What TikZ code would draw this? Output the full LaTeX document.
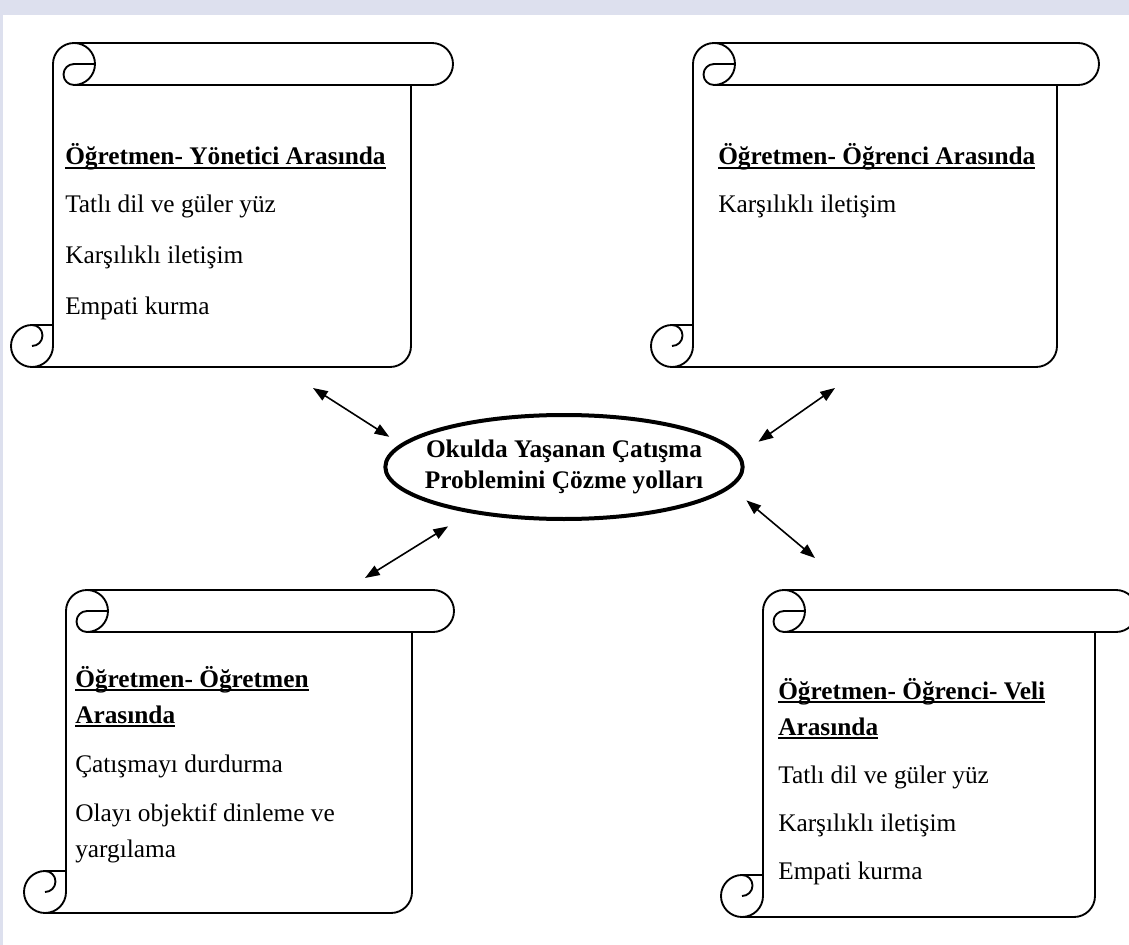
\documentclass[tikz,border=0pt]{standalone}
\usepackage{fontspec}
\setmainfont{Liberation Serif}
\usetikzlibrary{shapes.geometric, arrows.meta}

\definecolor{framebg}{RGB}{221,224,238}

% underline that cuts through descenders, like a word processor
\newcommand{\headline}[1]{\setbox0\hbox{#1}\rlap{\rule[-3pt]{\wd0}{1.2pt}}\box0}

% scroll outline: left x, top y, body width, height (all in px, y downward)
\newcommand{\scrollshape}[4]{%
  \begin{scope}[shift={(#1,-#2)}]
    \def\sr{21}
    \draw[scrollline] (\sr,0) -- (#3+\sr,0)
      arc[start angle=90, end angle=-90, radius=\sr] -- (\sr,-2*\sr);
    \draw[scrollline] (0,-#4+\sr) -- (0,-\sr)
      arc[start angle=180, end angle=90, radius=\sr]
      arc[start angle=90, end angle=-90, radius=\sr];
    \draw[scrollline] (2*\sr,-\sr) -- (\sr,-\sr)
      arc[start angle=90, end angle=270, radius=\sr/2];
    \draw[scrollline] (#3,-2*\sr) -- (#3,-#4+\sr)
      arc[start angle=0, end angle=-90, radius=\sr] -- (-\sr,-#4);
    \draw[scrollline] (0,-#4+2*\sr) -- (-\sr,-#4+2*\sr)
      arc[start angle=90, end angle=360, radius=\sr];
    \draw[scrollline] (-\sr,-#4+\sr) arc[start angle=-90, end angle=90, radius=\sr/2];
  \end{scope}}

\begin{document}
\begin{tikzpicture}[x=0.75pt, y=0.75pt,
    every node/.style={font=\fontsize{19}{23}\selectfont},
    scrollline/.style={line width=1.4pt, line join=round},
    head/.style={anchor=base west, inner sep=0pt, font=\fontsize{19}{23}\selectfont\bfseries},
    item/.style={anchor=base west, inner sep=0pt},
    oval/.style={ellipse, draw, line width=3pt, minimum width=268pt, minimum height=78pt,
      align=center, inner xsep=-14pt, inner ysep=4pt, font=\fontsize{19}{23}\selectfont\bfseries},
    link/.style={{Triangle[length=11pt,width=8pt]}-{Triangle[length=11pt,width=8pt]}, line width=1.2pt}
]
\useasboundingbox (0,0) rectangle (1129,-945);
\clip (0,0) rectangle (1129,-945);

% frame
\fill[framebg] (0,0) rectangle (1129,-15);
\fill[framebg] (0,0) rectangle (3,-945);

% scrolls
\scrollshape{53}{43}{358}{324}
\scrollshape{693}{43}{364}{324}
\scrollshape{66}{590}{346}{323}
\scrollshape{763}{590}{332}{327}

% centre
\node[oval] (goal) at (564,-467) {Okulda Yaşanan Çatışma\\Problemini Çözme yolları};

% top left
\node[head] (tlHead) at (65,-165) {\headline{Öğretmen- Yönetici Arasında}};
\node[item] (tlA) at (65,-213) {Tatlı dil ve güler yüz};
\node[item] (tlB) at (65,-264) {Karşılıklı iletişim};
\node[item] (tlC) at (65,-315) {Empati kurma};

% top right
\node[head] (trHead) at (718,-165) {\headline{Öğretmen- Öğrenci Arasında}};
\node[item] (trA) at (718,-213) {Karşılıklı iletişim};

% bottom left
\node[head] (blHeadA) at (75,-687) {\headline{Öğretmen- Öğretmen}};
\node[head] (blHeadB) at (75,-723) {\headline{Arasında}};
\node[item] (blA) at (75,-772) {Çatışmayı durdurma};
\node[item] (blB) at (75,-821) {Olayı objektif dinleme ve};
\node[item] (blC) at (75,-857) {yargılama};

% bottom right
\node[head] (brHeadA) at (778,-699) {\headline{Öğretmen- Öğrenci- Veli}};
\node[head] (brHeadB) at (778,-735) {\headline{Arasında}};
\node[item] (brA) at (778,-783) {Tatlı dil ve güler yüz};
\node[item] (brB) at (778,-831) {Karşılıklı iletişim};
\node[item] (brC) at (778,-879) {Empati kurma};

% arrows
\coordinate (tlOut) at (313,-388);
\coordinate (trOut) at (835,-388);
\coordinate (blOut) at (365,-578);
\coordinate (brOut) at (815,-558);
\draw[link, shorten >=10pt] (tlOut) -- (goal.172.5);
\draw[link, shorten >=17pt] (trOut) -- (goal.4.8);
\draw[link, shorten >=19pt] (blOut) -- (goal.206.7);
\draw[link, shorten >=15pt] (brOut) -- (goal.-7);

\end{tikzpicture}
\end{document}
